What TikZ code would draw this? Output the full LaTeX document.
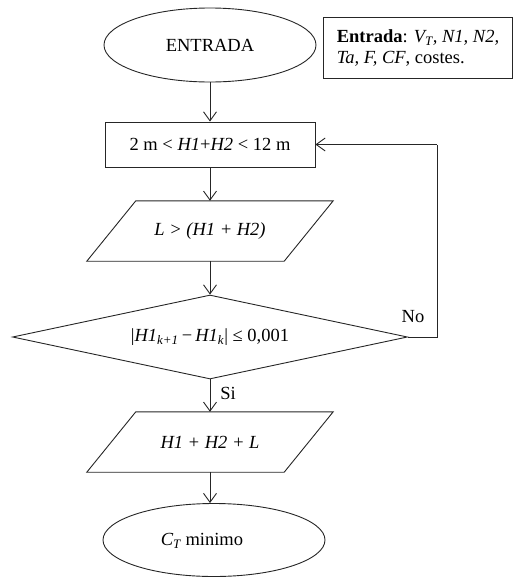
\documentclass[tikz,border=0pt]{standalone}
\usepackage{fontspec}
\setmainfont{Liberation Serif}
\usetikzlibrary{shapes.geometric,arrows.meta}

% outline of an input/output parallelogram around a named node
\newcommand\ioshape[1]{%
  \draw[line] ([xshift=24.5pt]#1.north west) -- ([xshift=24.5pt]#1.north east)
    -- ([xshift=-24.5pt]#1.south east) -- ([xshift=-24.5pt]#1.south west) -- cycle;}

\begin{document}
\begin{tikzpicture}[x=1pt,y=-1pt,
  every node/.style={font=\fontsize{18.5}{20.5}\selectfont},
  line/.style={draw=black!85, line width=0.9pt, line join=miter},
  flow/.style={line, -{Straight Barb[length=9pt,width=13pt]}},
  terminal/.style={ellipse, line, minimum width=212, minimum height=74, inner sep=0},
  process/.style={rectangle, line, minimum width=210, minimum height=45, inner sep=0},
  io/.style={rectangle, minimum width=197, minimum height=60, inner sep=0},
  decision/.style={diamond, line, minimum width=395, minimum height=84, inner sep=0, shape aspect=4.7},
  note/.style={rectangle, line, align=left, minimum width=189, minimum height=61, inner sep=0, anchor=north west},
  tag/.style={inner sep=0}]
\useasboundingbox (0,0) rectangle (514,579);

\node[terminal] (start) at (210,45) {ENTRADA};
\node[note] (input) at (323,17)
  {\textbf{Entrada}: \textit{V\textsubscript{T}, N1, N2,}\\\textit{Ta, F, CF}, costes.};
\node[process] (range) at (210,144.5) {2 m < \textit{H1}+\textit{H2} < 12 m};
\node[io] (cond) at (210,231) {\textit{L > (H1 + H2)}};
\ioshape{cond}
\node[decision] (test) at (210,337)
  {|\textit{H1}\textsubscript{\textit{k+1}}\,−\,\textit{H1}\textsubscript{\textit{k}}| ≤ 0,001};
\node[io] (result) at (210,442) {\textit{H1 + H2 + L}};
\ioshape{result}
\node[terminal, minimum width=222, minimum height=73] (stop) at (214,540) {};
\node[tag] (stoptext) at (202,541) {\textit{C\textsubscript{T}} minimo};

\coordinate (loop) at (437,144.5);

\draw[flow] (start) -- (range);
\draw[flow] (range) -- (cond);
\draw[flow] (cond) -- (test);
\draw[flow] (test) -- (result);
\draw[flow] (result.south) -- (result.south |- stop.north);
\draw[line] (test.east) -| (loop);
\draw[flow] (loop) -- (range.east);

\node[tag] (no) at (413,317) {No};
\node[tag] (si) at (228,393) {Si};
\end{tikzpicture}
\end{document}
